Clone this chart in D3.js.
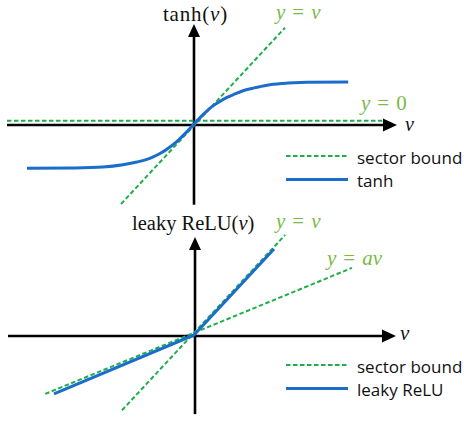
<!DOCTYPE html>
<html>
<head>
<meta charset="utf-8">
<script src="https://cdn.jsdelivr.net/npm/d3@7"></script>
<style>
  body { margin: 0; background: #fff; }
  svg { display: block; }
</style>
</head>
<body>
<svg id="chart"></svg>
<script>
// canvas
var width = 464;
var height = 422;

// top panel: tanh curve
const tanhNu  = [-4.2, -3.0, -2.3, -1.8, -1.45, -1.1, -0.875, -0.6, -0.4, -0.2, 0, 0.2, 0.4, 0.6, 0.8, 1.0, 1.2, 1.45, 1.8, 2.2, 2.8, 3.83];
const tanhVal = [-1.053, -1.045, -1.023, -0.97, -0.907, -0.81, -0.71, -0.54, -0.385, -0.2, 0, 0.195, 0.365, 0.49, 0.595, 0.675, 0.75, 0.81, 0.88, 0.92, 0.945, 0.953];
// sector bounds, top panel
const topUnitNu  = [-1.85, 2.25];
const topUnitVal = [-1.85, 2.25];
const topZeroNu  = [-4.7, 4.68];
const topZeroVal = [0, 0];

// bottom panel: leaky ReLU
const reluNu  = [-3.5, 0, 2.0];
const reluVal = [-1.37, 0, 2.0];
// sector bounds, bottom panel
const botUnitNu   = [-1.8, 2.28];
const botUnitVal  = [-1.75, 2.33];
const botSlopeNu  = [-3.72, 3.95];
const botSlopeVal = [-1.37, 1.56];

const legendTop = ['sector bound', 'tanh'];
const legendBot = ['sector bound', 'leaky ReLU'];

const green = '#1fae4c';
const labelGreen = '#7aba45';
const blue = '#1b6dcc';
const EQ = '\u2004=\u2004';

var svg = d3.select('#chart').attr('width', width).attr('height', height);

function zip(a, b) { return a.map((d, i) => [d, b[i]]) }

function drawPanel(p) {
    var x = d3.scaleLinear().domain([0, 1]).range([p.ox, p.ox + 40]);
    var y = d3.scaleLinear().domain([0, 1]).range([p.oy, p.oy - 43]);
    var g = svg.append('g');

    var line = d3.line().x(d => x(d[0])).y(d => y(d[1]));

    // axes
    var ay = y(0) + p.axisDy, ax = x(0) + p.axisDx;
    var hx0 = x(p.hAxis[0]), hx1 = x(p.hAxis[1]);
    var vy0 = y(p.vAxis[0]), vy1 = y(p.vAxis[1]);
    g.append('line').attr('x1', hx0).attr('x2', hx1 - 10).attr('y1', ay).attr('y2', ay)
        .attr('stroke', '#000').attr('stroke-width', 2.6);
    g.append('path').attr('d', `M${hx1},${ay} L${hx1 - 14},${ay - 6.5} L${hx1 - 14},${ay + 6.5} Z`).attr('fill', '#000');
    g.append('line').attr('x1', ax).attr('x2', ax).attr('y1', vy0).attr('y2', vy1 + 10)
        .attr('stroke', '#000').attr('stroke-width', 2.6);
    g.append('path').attr('d', `M${ax},${vy1} L${ax - 6},${vy1 + 13} L${ax + 6},${vy1 + 13} Z`).attr('fill', '#000');

    // sector bounds
    p.bounds.forEach(b => {
        g.append('path').attr('d', line(b.pts))
            .attr('transform', `translate(0,${b.dy || 0})`)
            .attr('fill', 'none').attr('stroke', green)
            .attr('stroke-width', 2).attr('stroke-dasharray', '4.5,2.5');
    });

    // activation
    g.append('path').attr('d', line.curve(p.curve)(p.act))
        .attr('fill', 'none').attr('stroke', blue).attr('stroke-width', 3)
        .attr('stroke-linejoin', 'round');

    // labels
    p.labels.forEach(l => {
        var t = g.append('text').attr('x', l.x).attr('y', l.y)
            .attr('font-family', 'Liberation Serif, serif').attr('font-size', l.size || 21)
            .attr('letter-spacing', l.ls || 0)
            .attr('fill', l.color || '#111').attr('text-anchor', l.anchor || 'start');
        l.parts.forEach(part => {
            t.append('tspan').text(part[0]).attr('font-style', part[1] ? 'italic' : 'normal');
        });
    });

    // legend
    var lg = g.append('g');
    p.legend.forEach((name, i) => {
        var ly = p.legendY + i * 23.5;
        lg.append('line').attr('x1', 286).attr('x2', 348).attr('y1', ly).attr('y2', ly)
            .attr('stroke', i == 0 ? green : blue)
            .attr('stroke-width', i == 0 ? 2 : 3)
            .attr('stroke-dasharray', i == 0 ? '4.5,2.5' : null);
        lg.append('text').attr('x', 357).attr('y', ly + 7.5)
            .attr('font-family', 'Open Sans, sans-serif').attr('font-size', 17)
            .attr('fill', '#111').text(name);
    });
}

drawPanel({
    ox: 195, oy: 123, axisDx: -1, axisDy: 2,
    hAxis: [-4.7, 5.05], vAxis: [-1.9, 2.3],
    act: zip(tanhNu, tanhVal), curve: d3.curveMonotoneX,
    bounds: [{ pts: zip(topUnitNu, topUnitVal), dy: 1.5 }, { pts: zip(topZeroNu, topZeroVal), dy: -2.3 }],
    legend: legendTop, legendY: 156,
    labels: [
        { x: 195.5, y: 21, anchor: 'middle', ls: 0.8, parts: [['tanh(', false], ['\u03bd', true], [')', false]] },
        { x: 276, y: 19, color: labelGreen, parts: [['y', true], [EQ, false], ['\u03bd', true]] },
        { x: 361, y: 110, color: labelGreen, size: 21, parts: [['y', true], [EQ + '0', false]] },
        { x: 405, y: 131, size: 20, parts: [['\u03bd', true]] }
    ]
});

drawPanel({
    ox: 194, oy: 335, axisDx: 1, axisDy: 1,
    hAxis: [-4.65, 5.05], vAxis: [-1.84, 2.28],
    act: zip(reluNu, reluVal), curve: d3.curveLinear,
    bounds: [{ pts: zip(botUnitNu, botUnitVal) }, { pts: zip(botSlopeNu, botSlopeVal) }],
    legend: legendBot, legendY: 365,
    labels: [
        { x: 132, y: 230, size: 20.5, parts: [['leaky ReLU(', false], ['\u03bd', true], [')', false]] },
        { x: 276, y: 228, color: labelGreen, parts: [['y', true], [EQ, false], ['\u03bd', true]] },
        { x: 327, y: 265, color: labelGreen, parts: [['y', true], [EQ, false], ['a\u03bd', true]] },
        { x: 400, y: 340, parts: [['\u03bd', true]] }
    ]
});
</script>
</body>
</html>
